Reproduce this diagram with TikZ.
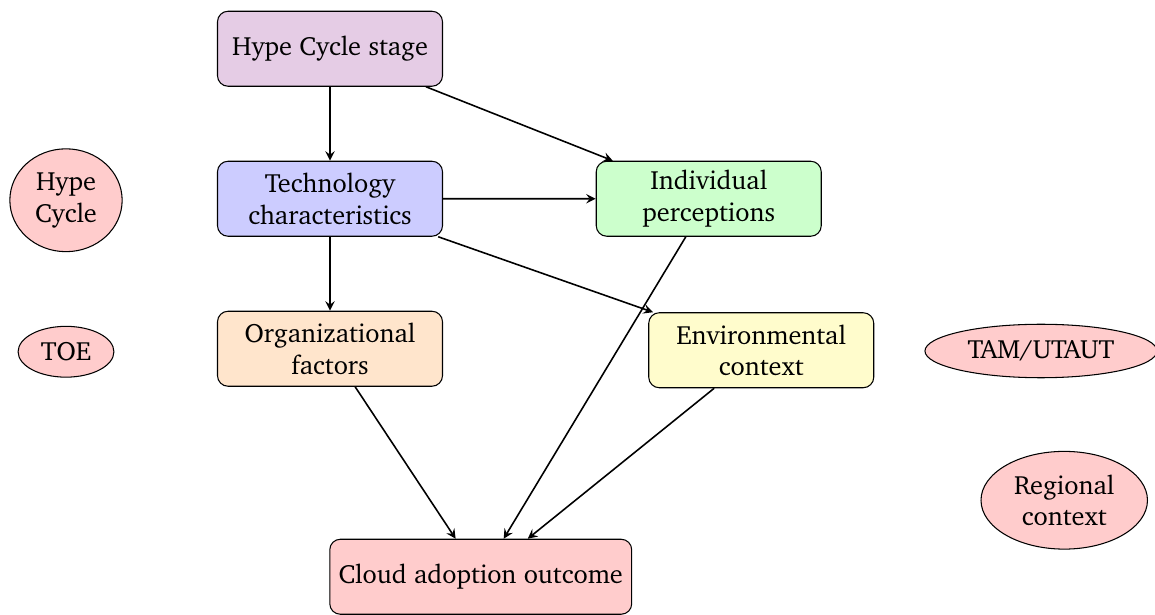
\documentclass[tikz,border=0pt]{standalone}
\usepackage[T1]{fontenc}
\usepackage{charter}
\usetikzlibrary{shapes.geometric}

\begin{document}
\begin{tikzpicture}[node distance = 2cm,
    factor/.style = {draw, rounded corners, align = center, minimum width = 3cm, minimum height = 1cm},
    theory/.style = {draw, ellipse, fill = red!20, align = center},
    link/.style = {-stealth, semithick}]
            \useasboundingbox (0,0) rectangle (15.4,-8.2);
            % main chain
            \node[factor, fill = violet!20] (hype) at (4.4,-0.65) {Hype Cycle stage};
            \node[factor, fill = blue!20, below of = hype] (tech) {Technology\\characteristics};
            \node[factor, fill = orange!20, below of = tech] (org) {Organizational\\factors};
            \node[factor, fill = green!20] (ind) at (9.45,-2.65) {Individual\\perceptions};
            \node[factor, fill = yellow!20] (env) at (10.15,-4.67) {Environmental\\context};
            \node[factor, fill = red!20] (outcome) at (6.41,-7.69) {Cloud adoption outcome};
            % theories
            \node[theory] (hc) at (0.88,-2.67) {Hype\\Cycle};
            \node[theory] (toe) at (0.88,-4.69) {TOE};
            \node[theory] (tam) at (13.88,-4.68) {TAM/UTAUT};
            \node[theory] (region) at (14.19,-6.67) {Regional\\context};
            % links
            \draw[link] (hype) -- (tech);
            \draw[link] (hype) -- (ind);
            \draw[link] (tech) -- (ind);
            \draw[link] (tech) -- (org);
            \draw[link] (tech) -- (env);
            \draw[link] (org) -- (outcome);
            \draw[link] (ind) -- (outcome);
            \draw[link] (env) -- (outcome);
        \end{tikzpicture}
\end{document}
